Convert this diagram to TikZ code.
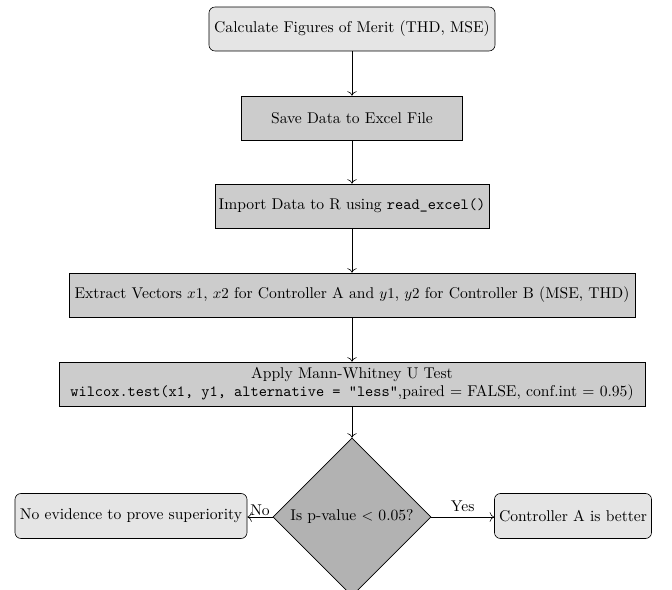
\documentclass[tikz,border=0pt]{standalone}
\usetikzlibrary{shapes.geometric,arrows.meta}
\begin{document}
\begin{tikzpicture}[x=0.6667pt,y=-0.6667pt,
  every node/.style={font=\fontsize{10.4}{12.6}\selectfont},
  roundbox/.style={draw, rounded corners=4pt, fill=gray!20, minimum height=29.3pt, inner sep=2pt, align=center},
  sqbox/.style={draw, fill=gray!40, minimum height=29.3pt, inner sep=2pt, align=center},
  decision/.style={draw, diamond, aspect=1, fill=gray!60, minimum width=105.3pt, minimum height=105.3pt, inner sep=1pt, align=center},
  conn/.style={-{To[length=3pt]}}]
\useasboundingbox (0,0) rectangle (672,590);
\clip (0,0) rectangle (672,590);
\node[roundbox, minimum width=190.7pt] (calc) at (352,29) {Calculate Figures of Merit (THD, MSE)};
\node[sqbox, minimum width=147.3pt] (save) at (352,118) {Save Data to Excel File};
\node[sqbox, minimum width=182.7pt] (import) at (352,206) {Import Data to R using \texttt{read\_excel()}};
\node[sqbox, minimum width=377.3pt] (extract) at (352,295) {Extract Vectors $x1$, $x2$ for Controller A and $y1$, $y2$ for Controller B (MSE, THD)};
\node[sqbox, minimum width=390.7pt] (apply) at (352,384) {Apply Mann-Whitney U Test\\[-1pt]\texttt{wilcox.test(x1, y1, alternative = "less"},paired = FALSE, conf.int = 0.95)};
\node[decision] (dec) at (352,517) {Is p-value $<$ 0.05?};
\node[roundbox, minimum width=154.7pt, minimum height=30pt] (no) at (131,516) {No evidence to prove superiority};
\node[roundbox, minimum width=104.7pt, minimum height=30pt] (yes) at (573,516) {Controller A is better};
\draw[conn] (calc) -- (save);
\draw[conn] (save) -- (import);
\draw[conn] (import) -- (extract);
\draw[conn] (extract) -- (apply);
\draw[conn] (apply) -- (dec);
\draw[conn] (dec.west) -- node[midway, above, inner sep=1pt] {No} (no.east |- dec.west);
\draw[conn] (dec.east) -- node[midway, above] {Yes} (yes.west |- dec.east);
\end{tikzpicture}
\end{document}
